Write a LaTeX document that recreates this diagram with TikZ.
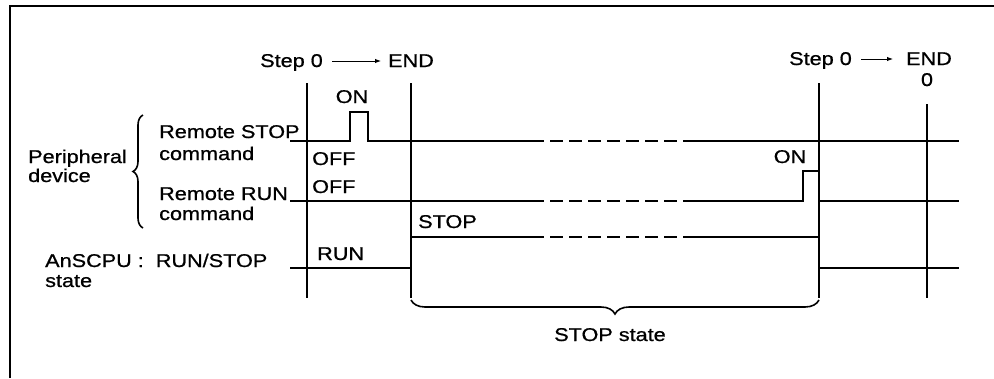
\documentclass[tikz,border=0pt]{standalone}
\usepackage{fontspec}
\setmainfont[FakeStretch=1.17,FakeBold=0.8]{Liberation Sans}
\usetikzlibrary{arrows.meta,decorations.pathreplacing}
\begin{document}
\begin{tikzpicture}[x=1pt,y=-1pt,
  lbl/.style={inner sep=0pt,anchor=base west,font=\fontsize{18.5}{20}\selectfont},
  lblc/.style={inner sep=0pt,anchor=base,font=\fontsize{18.5}{20}\selectfont},
  lble/.style={inner sep=0pt,anchor=base east,font=\fontsize{18.5}{20}\selectfont},
  frame/.style={line width=2.2pt},
  vline/.style={line width=1.9pt},
  sig/.style={line width=2.8pt,line join=miter},
  sigdash/.style={line width=2.8pt,dash pattern=on 13pt off 6pt},
  bracestyle/.style={line width=1.6pt,decorate},
  steparrow/.style={line width=1pt,-{Latex[length=6pt,width=4.5pt]}}]
\useasboundingbox (0,0) rectangle (994,378);
\fill[white] (0,0) rectangle (994,378);
% frame (open at right and bottom)
\draw[frame] (10,378) -- (10,6) -- (994,6);

% vertical time markers
\coordinate (v1t) at (307,83); \coordinate (v1b) at (307,298);
\coordinate (v2t) at (411,83); \coordinate (v2b) at (411,298);
\coordinate (v3t) at (819,83); \coordinate (v3b) at (819,298);
\coordinate (v4t) at (927,104); \coordinate (v4b) at (927,298);
\draw[vline] (v1t) -- (v1b);
\draw[vline] (v2t) -- (v2b);
\draw[vline] (v3t) -- (v3b);
\draw[vline] (v4t) -- (v4b);

% top labels
\node[lble] (step1) at (323,67) {Step 0};
\node[lblc] (end1) at (411,67) {END};
\coordinate (a1s) at (332,61); \coordinate (a1e) at (381,61);
\draw[steparrow] (a1s) -- (a1e);
\node[lble] (step2) at (852,65) {Step 0};
\node[lblc] (end2) at (929,65) {END};
\coordinate (a2s) at (861,59); \coordinate (a2e) at (893,59);
\draw[steparrow] (a2s) -- (a2e);
\node[lblc] (zero) at (927,86) {0};

% Remote STOP command signal
\draw[sig] (290,141) -- (350,141) -- (350,112) -- (368,112) -- (368,141) -- (531,141);
\draw[sigdash] (531,141) -- (694,141);
\draw[sig] (694,141) -- (959,141);
% Remote RUN command signal
\draw[sig] (290,201) -- (531,201);
\draw[sigdash] (531,201) -- (694,201);
\draw[sig] (694,201) -- (803,201) -- (803,171) -- (819,171) -- (819,201) -- (959,201);
% AnSCPU RUN/STOP state
\draw[sig] (290,268) -- (411,268) -- (411,237) -- (531,237);
\draw[sigdash] (531,237) -- (694,237);
\draw[sig] (694,237) -- (819,237) -- (819,268) -- (959,268);

% signal labels
\node[lblc] (on1) at (352,103) {ON};
\node[lbl] (off1) at (312,165) {OFF};
\node[lbl] (off2) at (312,193) {OFF};
\node[lblc] (on2) at (790,163) {ON};
\node[lbl] (stop) at (418,228) {STOP};
\node[lbl] (run) at (317,260) {RUN};

% left labels
\node[lbl] (rstop) at (159,138) {Remote STOP};
\node[lbl] (cmd1) at (159,160) {command};
\node[lbl] (rrun) at (159,200) {Remote RUN};
\node[lbl] (cmd2) at (159,220) {command};
\node[lbl] (periph) at (28,163) {Peripheral};
\node[lbl] (device) at (28,182) {device};
\node[lbl] (anscpu) at (45,267) {AnSCPU :\ \ RUN/STOP};
\node[lbl] (state) at (45,287) {state};

% braces
\draw[bracestyle,decoration={brace,amplitude=10pt}] (143,228) -- (143,115);
\draw[bracestyle,decoration={brace,amplitude=14pt}] (819,300) -- (411,300);
\node[lblc] (stopstate) at (610,341) {STOP state};
\end{tikzpicture}
\end{document}
